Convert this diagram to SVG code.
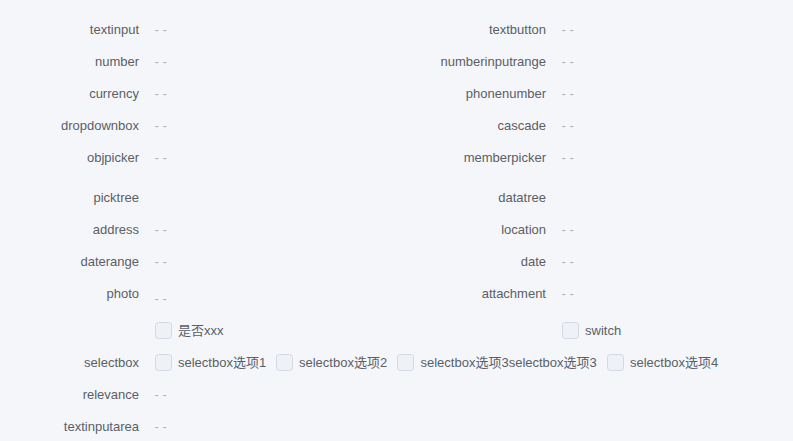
<svg xmlns="http://www.w3.org/2000/svg" width="793" height="441" viewBox="0 0 793 441">
<style>
text{font-family:"Liberation Sans","Noto Sans CJK SC",Arial,sans-serif;font-size:13px}
.lbl{fill:#5a5e66;text-anchor:end}
.val{fill:#aeb1b8}
.opt{fill:#5a5e66}
.cb{fill:#eef1f6;stroke:#d3d9e2;stroke-width:1}
</style>
<rect x="0" y="0" width="793" height="441" fill="#f5f6fa"/>
<g id="connectors"/>
<g id="row-textinput"><text class="lbl" x="139" y="34">textinput</text><text class="val" x="154.5" y="34">- -</text></g>
<g id="row-textbutton"><text class="lbl" x="546" y="34">textbutton</text><text class="val" x="561.5" y="34">- -</text></g>
<g id="row-number"><text class="lbl" x="139" y="66">number</text><text class="val" x="154.5" y="66">- -</text></g>
<g id="row-numberinputrange"><text class="lbl" x="546" y="66">numberinputrange</text><text class="val" x="561.5" y="66">- -</text></g>
<g id="row-currency"><text class="lbl" x="139" y="98">currency</text><text class="val" x="154.5" y="98">- -</text></g>
<g id="row-phonenumber"><text class="lbl" x="546" y="98">phonenumber</text><text class="val" x="561.5" y="98">- -</text></g>
<g id="row-dropdownbox"><text class="lbl" x="139" y="130">dropdownbox</text><text class="val" x="154.5" y="130">- -</text></g>
<g id="row-cascade"><text class="lbl" x="546" y="130">cascade</text><text class="val" x="561.5" y="130">- -</text></g>
<g id="row-objpicker"><text class="lbl" x="139" y="162">objpicker</text><text class="val" x="154.5" y="162">- -</text></g>
<g id="row-memberpicker"><text class="lbl" x="546" y="162">memberpicker</text><text class="val" x="561.5" y="162">- -</text></g>
<g id="row-picktree"><text class="lbl" x="139" y="202">picktree</text></g>
<g id="row-datatree"><text class="lbl" x="546" y="202">datatree</text></g>
<g id="row-address"><text class="lbl" x="139" y="234">address</text><text class="val" x="154.5" y="234">- -</text></g>
<g id="row-location"><text class="lbl" x="546" y="234">location</text><text class="val" x="561.5" y="234">- -</text></g>
<g id="row-daterange"><text class="lbl" x="139" y="266">daterange</text><text class="val" x="154.5" y="266">- -</text></g>
<g id="row-date"><text class="lbl" x="546" y="266">date</text><text class="val" x="561.5" y="266">- -</text></g>
<g id="row-photo"><text class="lbl" x="139" y="298">photo</text><text class="val" x="154.5" y="302.5">- -</text></g>
<g id="row-attachment"><text class="lbl" x="546" y="298">attachment</text><text class="val" x="561.5" y="298">- -</text></g>
<g id="row-yesno"><rect class="cb" x="155.5" y="322.5" width="16" height="16" rx="3"/><text class="opt" x="178" y="335">是否xxx</text></g>
<g id="row-switch"><rect class="cb" x="562.5" y="322.5" width="16" height="16" rx="3"/><text class="opt" x="585" y="335">switch</text></g>
<g id="row-selectbox"><text class="lbl" x="139" y="367">selectbox</text>
<rect class="cb" x="155.5" y="354.5" width="16" height="16" rx="3"/><text class="opt" x="178" y="367">selectbox选项1</text>
<rect class="cb" x="276.5" y="354.5" width="16" height="16" rx="3"/><text class="opt" x="299" y="367">selectbox选项2</text>
<rect class="cb" x="397.5" y="354.5" width="16" height="16" rx="3"/><text class="opt" x="420.5" y="367">selectbox选项3selectbox选项3</text>
<rect class="cb" x="607.5" y="354.5" width="16" height="16" rx="3"/><text class="opt" x="630" y="367">selectbox选项4</text></g>
<g id="row-relevance"><text class="lbl" x="139" y="399">relevance</text><text class="val" x="154.5" y="399">- -</text></g>
<g id="row-textinputarea"><text class="lbl" x="139" y="431">textinputarea</text><text class="val" x="154.5" y="431">- -</text></g>
</svg>
